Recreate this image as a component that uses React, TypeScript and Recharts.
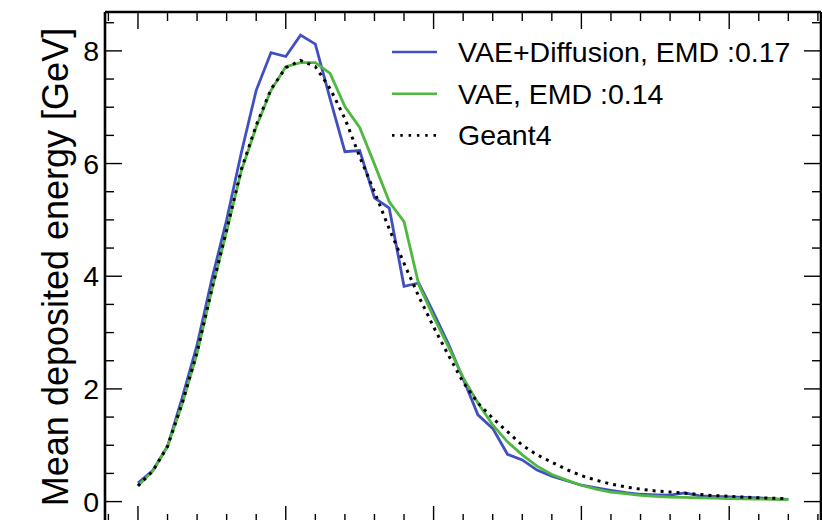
import { LineChart, Line, XAxis, YAxis } from "recharts";

// layer index and mean deposited energy per layer [GeV]
const layers = [
  0, 1, 2, 3, 4, 5, 6, 7, 8, 9, 10, 11, 12, 13, 14, 15, 16, 17, 18, 19, 20, 21, 22,
  23, 24, 25, 26, 27, 28, 29, 30, 31, 32, 33, 34, 35, 36, 37, 38, 39, 40, 41, 42, 43, 44,
];

const vaeDiffusion = [
  0.33, 0.55, 0.98, 1.85, 2.78, 3.95, 5.0, 6.2, 7.3, 7.97, 7.9, 8.28, 8.12, 7.15, 6.21,
  6.23, 5.39, 5.21, 3.82, 3.88, 3.35, 2.8, 2.18, 1.54, 1.3, 0.84, 0.74, 0.56, 0.45, 0.37,
  0.29, 0.245, 0.2, 0.16, 0.13, 0.12, 0.115, 0.155, 0.1, 0.09, 0.085, 0.075, 0.065, 0.05, 0.04,
];

const vae = [
  0.28, 0.54, 0.98, 1.74, 2.63, 3.76, 4.8, 5.88, 6.65, 7.3, 7.72, 7.79, 7.79, 7.6, 7.01,
  6.64, 5.99, 5.32, 4.97, 3.85, 3.28, 2.75, 2.2, 1.75, 1.36, 1.06, 0.83, 0.63, 0.48, 0.38,
  0.29, 0.22, 0.17, 0.14, 0.11, 0.095, 0.08, 0.075, 0.065, 0.06, 0.055, 0.05, 0.045, 0.04, 0.035,
];

const geant4 = [
  0.28, 0.54, 0.98, 1.75, 2.65, 3.77, 4.82, 5.9, 6.68, 7.32, 7.7, 7.83, 7.72, 7.33, 6.8,
  6.12, 5.5, 4.84, 4.23, 3.64, 3.1, 2.6, 2.12, 1.75, 1.48, 1.24, 1.0, 0.83, 0.7, 0.57,
  0.46, 0.38, 0.31, 0.26, 0.22, 0.19, 0.17, 0.15, 0.125, 0.106, 0.094, 0.08, 0.068, 0.06, 0.053,
];

const xTicks = [-2, 0, 2, 4, 6, 8, 10, 12, 14, 16, 18, 20, 22, 24, 26, 28, 30, 32, 34, 36, 38, 40, 42, 44, 46];
const yTicks = [0, 0.5, 1, 1.5, 2, 2.5, 3, 3.5, 4, 4.5, 5, 5.5, 6, 6.5, 7, 7.5, 8, 8.5];

const seriesNames = ["VAE+Diffusion, EMD :0.17", "VAE, EMD :0.14", "Geant4"];
const BLUE = "#4050c0";
const GREEN = "#50b840";
const FONT = "'Liberation Sans', Arial, Helvetica, sans-serif";

const data = layers.map((layer, i) => ({
  layer,
  vaeDiffusion: vaeDiffusion[i],
  vae: vae[i],
  geant4: geant4[i],
}));

const MAJOR = 17;
const MINOR = 9;

function LeftTick({ x, y, payload }: any) {
  const v = payload.value;
  const major = v % 2 === 0;
  return (
    <g>
      <line x1={x} x2={x + (major ? MAJOR : MINOR)} y1={y} y2={y} stroke="#000" strokeWidth={1.4} />
      {major && (
        <text x={x - 6} y={y} dy="0.36em" textAnchor="end" fontSize={28.5} fontFamily={FONT} fill="#000">
          {v}
        </text>
      )}
    </g>
  );
}

function RightTick({ x, y, payload }: any) {
  const major = payload.value % 2 === 0;
  return <line x1={x} x2={x - (major ? MAJOR : MINOR)} y1={y} y2={y} stroke="#000" strokeWidth={1.4} />;
}

function TopTick({ x, y, payload }: any) {
  const major = payload.value % 10 === 0;
  return <line x1={x} x2={x} y1={y} y2={y + (major ? MAJOR : MINOR)} stroke="#000" strokeWidth={1.4} />;
}

function BottomTick({ x, y, payload }: any) {
  const major = payload.value % 10 === 0;
  return <line x1={x} x2={x} y1={y} y2={y - (major ? MAJOR : MINOR)} stroke="#000" strokeWidth={1.4} />;
}

function LegendBox() {
  const rows = [
    { name: seriesNames[0], color: BLUE, dash: undefined },
    { name: seriesNames[1], color: GREEN, dash: undefined },
    { name: seriesNames[2], color: "#000", dash: "2.5 5.8" },
  ];
  return (
    <g>
      {rows.map((r, i) => (
        <g key={r.name}>
          <line
            x1={392}
            x2={437}
            y1={52 + i * 41.7}
            y2={52 + i * 41.7}
            stroke={r.color}
            strokeWidth={r.dash ? 2.6 : 2.4}
            strokeDasharray={r.dash}
          />
          <text x={458} y={62 + i * 41.7} fontSize={28.5} fontFamily={FONT} fill="#000">
            {r.name}
          </text>
        </g>
      ))}
    </g>
  );
}

export default function App() {
  return (
    <div style={{ position: "absolute", left: 0, top: 0, width: 822, height: 520, overflow: "hidden", background: "#fff" }}>
      <LineChart
        width={830}
        height={560}
        data={data}
        margin={{ top: 0, right: 0, bottom: 0, left: 0 }}
      >
        <XAxis
          xAxisId="b"
          dataKey="layer"
          type="number"
          domain={[-2.23, 46.21]}
          allowDataOverflow
          ticks={xTicks}
          interval={0}
          orientation="bottom"
          height={37}
          tickSize={0}
          tickMargin={0}
          tick={<BottomTick />}
          axisLine={{ stroke: "#000", strokeWidth: 2.6 }}
          tickLine={false}
        />
        <XAxis
          xAxisId="t"
          dataKey="layer"
          type="number"
          domain={[-2.23, 46.21]}
          allowDataOverflow
          ticks={xTicks}
          interval={0}
          orientation="top"
          height={12}
          tickSize={0}
          tickMargin={0}
          tick={<TopTick />}
          axisLine={{ stroke: "#000", strokeWidth: 2.6 }}
          tickLine={false}
        />
        <YAxis
          yAxisId="l"
          type="number"
          domain={[-0.38, 8.69]}
          allowDataOverflow
          ticks={yTicks}
          interval={0}
          orientation="left"
          width={105}
          tickSize={0}
          tickMargin={0}
          tick={<LeftTick />}
          axisLine={{ stroke: "#000", strokeWidth: 2.6 }}
          tickLine={false}
        />
        <YAxis
          yAxisId="r"
          type="number"
          domain={[-0.38, 8.69]}
          allowDataOverflow
          ticks={yTicks}
          interval={0}
          orientation="right"
          width={9}
          tickSize={0}
          tickMargin={0}
          tick={<RightTick />}
          axisLine={{ stroke: "#000", strokeWidth: 2.6 }}
          tickLine={false}
        />
        <Line
          xAxisId="b"
          yAxisId="l"
          type="linear"
          dataKey="vaeDiffusion"
          name={seriesNames[0]}
          stroke={BLUE}
          strokeWidth={2.8}
          dot={false}
          isAnimationActive={false}
        />
        <Line
          xAxisId="b"
          yAxisId="l"
          type="linear"
          dataKey="vae"
          name={seriesNames[1]}
          stroke={GREEN}
          strokeWidth={2.8}
          dot={false}
          isAnimationActive={false}
        />
        <Line
          xAxisId="b"
          yAxisId="l"
          type="linear"
          dataKey="geant4"
          name={seriesNames[2]}
          stroke="#000"
          strokeWidth={3}
          strokeDasharray="3 5"
          dot={false}
          isAnimationActive={false}
        />
      </LineChart>
      <svg width={822} height={520} style={{ position: "absolute", left: 0, top: 0, pointerEvents: "none" }}>
        <text
          x={68}
          y={267}
          transform="rotate(-90 68 267)"
          textAnchor="middle"
          fontSize={36}
          fontFamily={FONT}
          fill="#000"
        >
          Mean deposited energy [GeV]
        </text>
        <LegendBox />
      </svg>
    </div>
  );
}
